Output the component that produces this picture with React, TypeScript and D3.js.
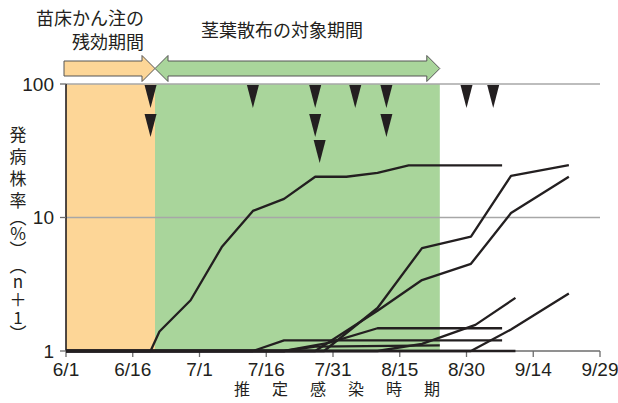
import React from 'react';
import * as d3 from 'd3';

// x tick labels (every 15 days) and y ticks (log)
const tickLabels = ['6/1', '6/16', '7/1', '7/16', '7/31', '8/15', '8/30', '9/14', '9/29'];
const yTicks = [1, 10, 100];

// shaded periods
const drenchPeriod = ['6/1', '6/21'];
const sprayPeriod = ['6/21', '8/24'];

// spray timings (▼), by row
const sprayRow1 = ['6/20', '7/13', '7/27', '8/5', '8/12', '8/30', '9/5'];
const sprayRow2 = ['6/20', '7/27', '8/12'];
const sprayRow3 = ['7/28'];

// disease incidence curves (%, n+1)
const lineADates = ['6/1', '6/20', '6/22', '6/29', '7/6', '7/13', '7/20', '7/27', '8/3', '8/10', '8/17', '9/7'];
const lineAValues = [1, 1, 1.4, 2.4, 6.0, 11.2, 13.8, 20.2, 20.2, 21.6, 24.6, 24.6];
const lineBDates = ['6/1', '7/29', '8/10', '8/20', '8/31', '9/9', '9/22'];
const lineBValues = [1, 1, 2.1, 5.9, 7.2, 20.5, 24.7];
const lineCDates = ['6/1', '7/27', '8/10', '8/20', '8/31', '9/9', '9/22'];
const lineCValues = [1, 1, 2.0, 3.4, 4.5, 10.8, 20.2];
const lineDDates = ['6/1', '8/10', '8/20', '9/1', '9/10'];
const lineDValues = [1, 1, 1.13, 1.57, 2.5];
const lineEDates = ['6/1', '8/31', '9/9', '9/22'];
const lineEValues = [1, 1, 1.45, 2.7];
const lineFDates = ['6/1', '7/20', '7/30', '8/10', '9/7'];
const lineFValues = [1, 1, 1.15, 1.48, 1.48];
const lineGDates = ['6/1', '7/13', '7/20', '9/7'];
const lineGValues = [1, 1, 1.2, 1.2];
const lineHDates = ['6/1', '7/20', '7/27', '8/24'];
const lineHValues = [1, 1, 1.08, 1.1];
const lineIDates = ['6/1', '9/10'];
const lineIValues = [1, 1];

const yTitle = ['発', '病', '株', '率', '︵', '%', '︶', '︵', 'n', '＋', '1', '︶'];
const xTitle = ['推', '定', '感', '染', '時', '期'];

const md = (s: string) => {
  const [m, d] = s.split('/').map(Number);
  return new Date(Date.UTC(2020, m - 1, d));
};

const lines = [
  [lineADates, lineAValues],
  [lineBDates, lineBValues],
  [lineCDates, lineCValues],
  [lineDDates, lineDValues],
  [lineEDates, lineEValues],
  [lineFDates, lineFValues],
  [lineGDates, lineGValues],
  [lineHDates, lineHValues],
  [lineIDates, lineIValues],
].map(([ds, vs]) => (ds as string[]).map((d, i) => [md(d), (vs as number[])[i]] as [Date, number]));

const ORANGE = '#FDD697';
const GREEN = '#A9D59B';
const INK = '#231F20';
const GRID = '#A7A7A7';
const CJK = '"Noto Sans CJK JP", "Noto Sans", sans-serif';
const NUM = '"Liberation Sans Narrow", "Liberation Sans", Arial, sans-serif';

export default function App() {
  const x = d3.scaleUtc().domain([md('6/1'), md('9/29')]).range([66, 600]);
  const y = d3.scaleLog().domain([1, 100]).range([351, 84]);
  const line = d3.line<[Date, number]>().x(d => x(d[0])).y(d => y(d[1]));

  const left = x.range()[0];
  const right = x.range()[1];

  // arrows
  const ay = 68.5, bh = 15, hh = 26, hl = 13;
  const oX0 = 64, oX1 = x(md(drenchPeriod[1]));
  const gX0 = x(md(sprayPeriod[0])), gX1 = x(md(sprayPeriod[1]));
  const orangeArrow = `M${oX0},${ay - bh / 2}L${oX1 - hl},${ay - bh / 2}L${oX1 - hl},${ay - hh / 2}L${oX1},${ay}L${oX1 - hl},${ay + hh / 2}L${oX1 - hl},${ay + bh / 2}L${oX0},${ay + bh / 2}Z`;
  const greenArrow = `M${gX0},${ay}L${gX0 + hl},${ay - hh / 2}L${gX0 + hl},${ay - bh / 2}L${gX1 - hl},${ay - bh / 2}L${gX1 - hl},${ay - hh / 2}L${gX1},${ay}L${gX1 - hl},${ay + hh / 2}L${gX1 - hl},${ay + bh / 2}L${gX0 + hl},${ay + bh / 2}L${gX0 + hl},${ay + hh / 2}Z`;

  const rowTop = [85, 114, 140];
  const tri = (cx: number, top: number) => `M${cx - 6},${top}L${cx + 6},${top}L${cx},${top + 23}Z`;
  const markers = [sprayRow1, sprayRow2, sprayRow3].flatMap((row, r) => row.map(d => tri(x(md(d)), rowTop[r])));

  // vertical title: character centres
  const yTitlePos = [135, 157, 179, 201, 218, 234, 250, 266, 282, 300, 318, 334];

  return (
    <svg width={618} height={403} style={{ position: 'absolute', left: 0, top: 0, background: '#fff' }}>
      {/* periods */}
      <rect x={x(md(drenchPeriod[0]))} y={y(100)} width={x(md(drenchPeriod[1])) - x(md(drenchPeriod[0]))} height={y(1) - y(100)} fill={ORANGE} />
      <rect x={x(md(sprayPeriod[0]))} y={y(100)} width={x(md(sprayPeriod[1])) - x(md(sprayPeriod[0]))} height={y(1) - y(100)} fill={GREEN} />

      {/* grid */}
      {[10, 100].map(v => (
        <line key={v} x1={left} x2={right} y1={y(v)} y2={y(v)} stroke={GRID} strokeWidth={1.6} />
      ))}

      {/* axes */}
      <line x1={left} x2={right} y1={y(1)} y2={y(1)} stroke="#6d6d6d" strokeWidth={1.6} />
      <line x1={left} x2={left} y1={y(100)} y2={y(1)} stroke={INK} strokeWidth={1.6} />
      {tickLabels.map(t => (
        <g key={t} transform={`translate(${x(md(t))},0)`}>
          <line y1={y(1)} y2={y(1) + 6} stroke="#6d6d6d" strokeWidth={1.3} />
          <text y={376} textAnchor="middle" fontFamily={NUM} fontSize={19} fill={INK}>{t}</text>
        </g>
      ))}
      {yTicks.map(v => (
        <g key={v} transform={`translate(0,${y(v)})`}>
          <line x1={left - 6} x2={left} stroke="#6d6d6d" strokeWidth={1.3} />
          <text x={54} dy="0.35em" textAnchor="end" fontFamily={NUM} fontSize={19} fill={INK}>{v}</text>
        </g>
      ))}

      {/* curves */}
      {lines.map((pts, i) => (
        <path key={i} d={line(pts) || ''} fill="none" stroke={INK} strokeWidth={2.3} strokeLinejoin="round" />
      ))}

      {/* spray markers */}
      {markers.map((d, i) => <path key={i} d={d} fill={INK} />)}

      {/* period arrows */}
      <path d={orangeArrow} fill={ORANGE} stroke="#555" strokeWidth={1} />
      <path d={greenArrow} fill={GREEN} stroke="#555" strokeWidth={1} />

      {/* titles */}
      <g fontFamily={CJK} fontSize={18} fill={INK}>
        <text x={144} y={25} textAnchor="end">苗床かん注の</text>
        <text x={144} y={49} textAnchor="end">残効期間</text>
        <text x={201} y={37}>茎葉散布の対象期間</text>
      </g>
      <g fontFamily={CJK} fontSize={17} fill={INK} textAnchor="middle">
        {yTitle.map((c, i) => (
          <text key={i} x={18} y={yTitlePos[i]} dy="0.35em">{c}</text>
        ))}
      </g>
      <g fontFamily={CJK} fontSize={16} fill={INK} textAnchor="middle">
        {xTitle.map((c, i) => (
          <text key={i} x={242 + i * 38} y={389} dy="0.35em">{c}</text>
        ))}
      </g>
    </svg>
  );
}
